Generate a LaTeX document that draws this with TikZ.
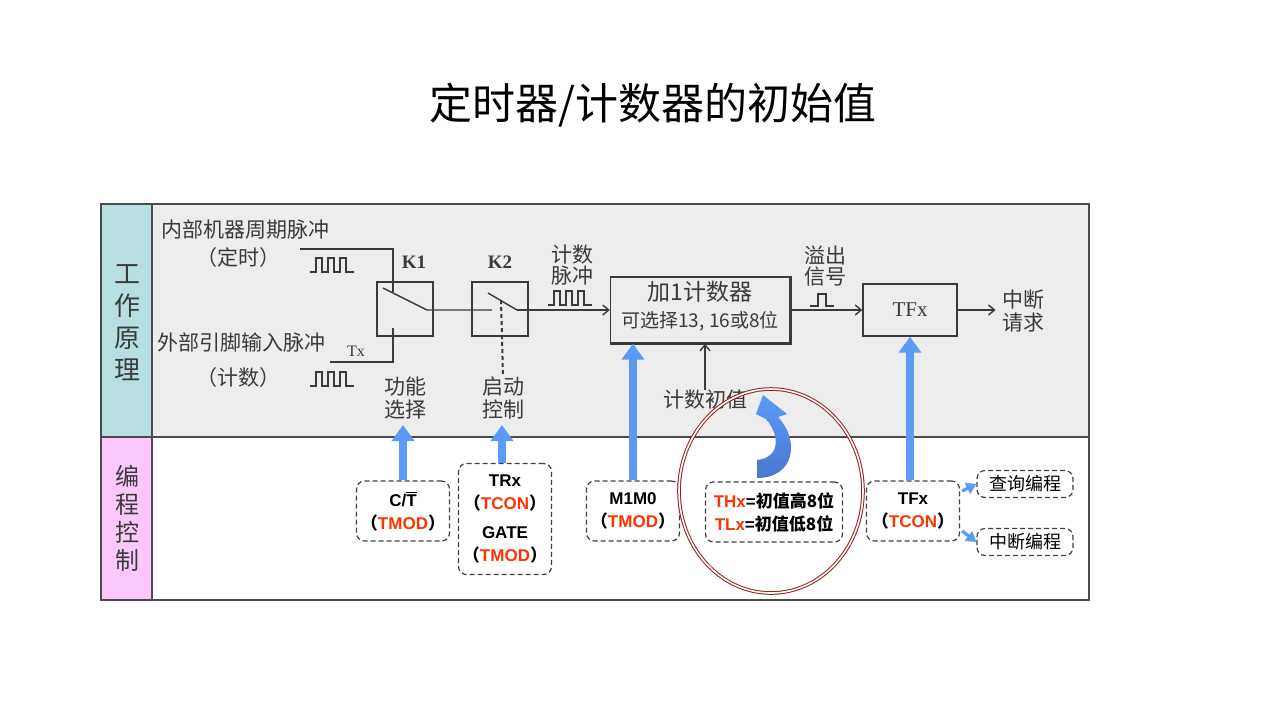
\documentclass[tikz,border=0pt]{standalone}
\usepackage{fontspec}
\setmainfont{Liberation Serif}
\setsansfont{Liberation Sans}
\newfontfamily\cjk{Noto Sans CJK SC}
\usetikzlibrary{arrows.meta,positioning,calc}
\definecolor{ink}{HTML}{3A3A3A}
\definecolor{paper}{HTML}{EDEDED}
\definecolor{celltop}{HTML}{B7DEE0}
\definecolor{cellbot}{HTML}{FCC8FC}
\definecolor{tblue}{HTML}{5B9BF5}
\definecolor{tdeep}{HTML}{4A78D0}
\definecolor{tred}{HTML}{FF3300}
\definecolor{ring}{HTML}{9A1F1F}
\newcommand\zh[1]{{\cjk #1}}
\newcommand\red[1]{\textcolor{tred}{#1}}
\tikzset{
  zhtext/.style={font=\cjk\fontsize{10.5}{10.5}\selectfont, text=ink, align=center, inner sep=0pt},
  wire/.style={draw=ink, line width=0.7pt},
  wirearrow/.style={wire, -{Straight Barb[length=3pt,width=5pt]}},
  swbox/.style={draw=ink, line width=0.7pt, minimum width=28pt, minimum height=27pt},
  regbox/.style={draw=black!75, dash pattern=on 2.5pt off 1.5pt, line width=0.6pt,
    rounded corners=4pt, minimum width=46.5pt, align=center, inner sep=0pt,
    font=\sffamily\bfseries\fontsize{8.5}{11.5}\selectfont},
  bluearrow/.style={draw=tblue, line width=4pt, -{Triangle[width=11pt,length=8pt]}},
  smallblue/.style={draw=tblue, line width=1.6pt, -{Triangle[width=6pt,length=5pt]}},
  pics/clk/.style={code={
    \draw[wire] (0,0) -- (6,0) -- (6,-14) -- (12,-14) -- (12,0) -- (18,0) -- (18,-14)
      -- (24,-14) -- (24,0) -- (30,0) -- (30,-14) -- (36,-14) -- (36,0) -- (44,0);}},
  pics/onepulse/.style={code={
    \draw[wire] (0,0) -- (8,0) -- (8,-12) -- (16,-12) -- (16,0) -- (24,0);}},
}

\begin{document}
\begin{tikzpicture}[x=0.5pt,y=-0.5pt]
\useasboundingbox[fill=white] (0,0) rectangle (1280,720);
\node[font=\cjk\fontsize{21.5}{24}\selectfont] (title) at (653,105) {定时器/计数器的初始值};

% frame
\fill[paper] (152,204) rectangle (1089,437);
\fill[celltop] (101,204) rectangle (152,437);
\fill[cellbot] (101,437) rectangle (152,600);
\draw[black!70, line width=0.6pt] (101,204) rectangle (1089,600);
\draw[black!70, line width=0.6pt] (152,204) -- (152,600);
\draw[black!70, line width=0.6pt] (101,437) -- (1089,437);
\node[font=\cjk\fontsize{13}{16}\selectfont, text=ink, align=center] (work) at (127,323) {工\\作\\原\\理};
\node[font=\cjk\fontsize{12}{14}\selectfont, text=ink, align=center] (prog) at (127,518) {编\\程\\控\\制};

% inputs
\node[zhtext, anchor=west] (intclk) at (161,230) {内部机器周期脉冲};
\node[zhtext] (timing) at (238,258) {（定时）};
\node[zhtext, anchor=west] (extclk) at (157,342) {外部引脚输入脉冲};
\node[zhtext] (counting) at (238,378) {（计数）};
\node[font=\fontsize{8}{9}\selectfont, text=ink] (tx) at (356,351) {Tx};
\pic at (310,272) {clk};
\pic at (310,386) {clk};

% switches
\node[swbox] (k1) at (405,309) {};
\node[swbox] (k2) at (500,309) {};
\node[font=\bfseries\fontsize{9.5}{10}\selectfont, text=ink, above=3pt of k1, xshift=4.5pt] (k1lbl) {K1};
\node[font=\bfseries\fontsize{9.5}{10}\selectfont, text=ink, above=3pt of k2] (k2lbl) {K2};
\coordinate (intend) at (300,249);
\coordinate (extend) at (330,362);
\coordinate (k1in) at (393,292);
\coordinate (k1tx) at (393,328);
\coordinate (k1a) at (383,288);
\coordinate (k1b) at (427,310);
\coordinate (k2in) at (492,310);
\coordinate (k2a) at (488,293);
\coordinate (k2b) at (517,310);
\draw[wire] (intend) -| (k1in);
\draw[wire] (extend) -| (k1tx);
\draw[wire] (k1a) -- (k1b) -- (k2in);
\draw[wire] (k2a) -- (k2b);
\node[zhtext] (func) at (405,398) {功能\\[1pt]选择};
\node[zhtext] (start) at (503,398) {启动\\[1pt]控制};
\draw[ink, line width=1pt, dash pattern=on 2pt off 1.5pt] (501,300) -- (start.north);

% counter
\node[draw=ink, line width=0.7pt, minimum width=89.5pt, minimum height=33pt] (counter) at (700,310) {};
\draw[ink, line width=1.6pt] (counter.north east) -- (counter.south east) -- (counter.south west);
\node[zhtext, font=\cjk\fontsize{11.5}{12}\selectfont] (cnttop) at (700,292) {加1计数器};
\node[zhtext, font=\cjk\fontsize{9.5}{10}\selectfont] (cntbot) at (700,321) {可选择13, 16或8位};
\draw[wirearrow] (k2b) -- (counter.west);
\node[zhtext] (cntpulse) at (572,265) {计数\\脉冲};
\pic at (548,305) {clk};
\node[zhtext] (initval) at (705,400) {计数初值};
\draw[wirearrow] (initval.north) -- (initval.north |- counter.south);

% overflow
\node[zhtext] (ovf) at (825,266) {溢出\\信号};
\pic at (810,306) {onepulse};
\node[draw=ink, line width=0.7pt, minimum width=47pt, minimum height=26pt,
  font=\fontsize{10.5}{12}\selectfont, text=ink] (tfx) at (910,310) {TFx};
\draw[wirearrow] (counter.east) -- (tfx.west);
\node[zhtext] (irq) at (1023,311) {中断\\[1pt]请求};
\draw[wirearrow, shorten >=3pt] (tfx.east) -- (tfx.east -| irq.west);

% programming
\node[regbox, minimum height=30pt] (ct) at (403,511) {C/$\overline{\mbox{T}}$\\\zh{（}\red{TMOD}\zh{）}};
\node[regbox, minimum height=55.5pt] (trx) at (505,519) {TRx\\\zh{（}\red{TCON}\zh{）}\\[3pt]GATE\\\zh{（}\red{TMOD}\zh{）}};
\node[regbox, minimum height=30pt] (mode) at (633,511) {M1M0\\\zh{（}\red{TMOD}\zh{）}};
\node[regbox, minimum width=68.5pt, minimum height=30pt] (init) at (774,512) {\red{THx}=\zh{初值高8位}\\\red{TLx}=\zh{初值低8位}};
\node[regbox, minimum height=30pt] (flag) at (913,511) {TFx\\\zh{（}\red{TCON}\zh{）}};
\node[regbox, minimum width=48pt, minimum height=13.5pt, font=\cjk\fontsize{9}{10}\selectfont] (poll) at (1025,484) {查询编程};
\node[regbox, minimum width=48pt, minimum height=13.5pt, font=\cjk\fontsize{9}{10}\selectfont] (isr) at (1025,542) {中断编程};

\coordinate (ctup) at (403,425);
\coordinate (trxup) at (502,425);
\draw[bluearrow] (ct.north) -- (ctup);
\draw[bluearrow] (trxup |- trx.north) -- (trxup);
\draw[bluearrow] (mode.north) -- (mode.north |- counter.south);
\draw[bluearrow] (tfx.south |- flag.north) -- (tfx.south);
\draw[smallblue] ($(flag.east)+(2,-20)$) -- (poll.west);
\draw[smallblue] ($(flag.east)+(2,20)$) -- (isr.west);

% curved arrow and ring
\shade[top color=tblue, bottom color=tdeep]
  (757,478) .. controls (795,478) and (800,440) .. (778,417) -- (787,414) -- (763,395)
  -- (756,414) -- (766,419) .. controls (782,438) and (778,458) .. (757,460) -- cycle;
\draw[ring, double=white, double distance=0.8pt, line width=0.5pt] (771,491) ellipse [x radius=92, y radius=102];
\end{tikzpicture}
\end{document}
